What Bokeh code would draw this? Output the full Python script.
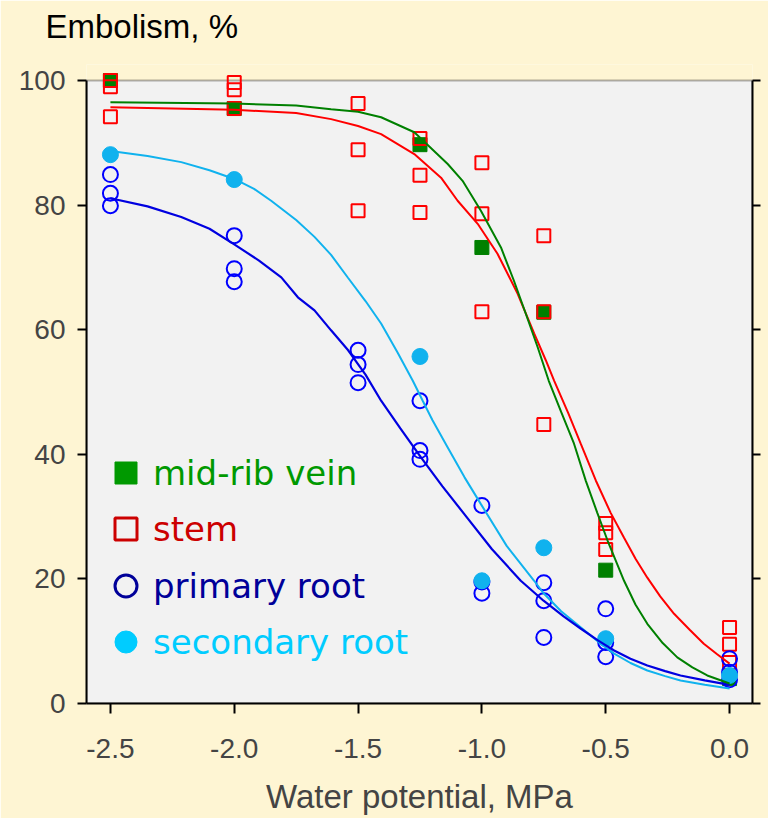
from bokeh.plotting import figure
from bokeh.models import (Range1d, LinearAxis, FixedTicker, NumeralTickFormatter, BoxAnnotation,
                          Legend, LegendItem)
from bokeh.embed import file_html
from bokeh.resources import INLINE

# ---------------- data ----------------
x_ticks = [-2.5, -2.0, -1.5, -1.0, -0.5, 0.0]
y_ticks = [0, 20, 40, 60, 80, 100]

vein_x = [-2.5, -2.0, -1.25, -1.0, -0.75, -0.5, 0.0]
vein_y = [100.0, 95.5, 89.7, 73.2, 62.8, 21.4, 4.0]

stem_x = [-2.5, -2.5, -2.5, -2.0, -2.0, -2.0, -1.5, -1.5, -1.5, -1.25, -1.25, -1.25,
          -1.0, -1.0, -1.0, -0.75, -0.75, -0.75, -0.5, -0.5, -0.5, 0.0, 0.0, 0.0]
stem_y = [100.0, 99.0, 94.2, 99.7, 98.5, 95.5, 96.3, 88.9, 79.1, 90.7, 84.8, 78.8,
          86.8, 78.6, 62.9, 75.1, 62.9, 44.8, 28.9, 27.4, 24.7, 12.2, 9.5, 6.6]

prim_x = [-2.5, -2.5, -2.5, -2.0, -2.0, -2.0, -1.5, -1.5, -1.5, -1.25, -1.25, -1.25,
          -1.0, -1.0, -1.0, -0.75, -0.75, -0.75, -0.5, -0.5, -0.5, 0.0, 0.0, 0.0]
prim_y = [84.9, 81.9, 79.9, 75.1, 69.8, 67.7, 56.7, 54.4, 51.5, 48.6, 40.6, 39.2,
          31.8, 19.5, 17.7, 19.4, 16.5, 10.6, 15.2, 9.8, 7.5, 7.2, 5.0, 3.8]

sec_x = [-2.5, -2.0, -1.25, -1.0, -0.75, -0.5, 0.0]
sec_y = [88.1, 84.1, 55.7, 19.7, 25.0, 10.4, 4.5]

# fitted curves, points
vein_fit_x = [-2.5, -2.0, -1.75, -1.609, -1.5, -1.407, -1.273, -1.138, -1.078, -1.004, -0.923,
              -0.871, -0.823, -0.774, -0.730, -0.680, -0.628, -0.58, -0.534, -0.493, -0.426,
              -0.38, -0.332, -0.27, -0.211, -0.15, -0.09, 0.0]
vein_fit_y = [96.5, 96.3, 96.0, 95.4, 95.0, 94.1, 91.7, 86.6, 83.9, 79.1, 73.2,
              67.9, 62.6, 57.1, 51.8, 46.8, 41.7, 35.7, 30.6, 26.2, 19.7,
              15.9, 12.8, 9.7, 7.4, 5.8, 4.5, 3.2]

stem_fit_x = [-2.5, -2.0, -1.75, -1.609, -1.5, -1.407, -1.273, -1.165, -1.098, -1.017, -0.937,
              -0.856, -0.789, -0.742, -0.708, -0.65, -0.601, -0.54, -0.48, -0.426, -0.379,
              -0.332, -0.28, -0.224, -0.16, -0.104, -0.05, 0.0]
stem_fit_y = [95.7, 95.3, 94.8, 93.8, 92.7, 91.4, 88.2, 84.4, 80.7, 77.0, 72.2,
              65.8, 59.4, 55.1, 51.8, 46.5, 41.7, 35.8, 30.6, 26.6, 23.2,
              20.2, 17.2, 14.4, 11.8, 9.6, 7.9, 6.4]

prim_fit_x = [-2.5, -2.35, -2.214, -2.1, -2.0, -1.9, -1.81, -1.743, -1.676, -1.609, -1.54,
              -1.47, -1.407, -1.33, -1.246, -1.16, -1.071, -0.96, -0.843, -0.751, -0.67,
              -0.6, -0.53, -0.466, -0.4, -0.332, -0.26, -0.198, -0.1, 0.0]
prim_fit_y = [81.1, 79.8, 78.1, 76.2, 73.7, 71.1, 68.4, 65.2, 63.1, 59.9, 56.7,
              52.8, 48.6, 44.2, 39.5, 34.9, 30.4, 24.8, 19.7, 16.5, 14.0,
              12.0, 10.1, 8.5, 7.2, 6.1, 5.2, 4.5, 3.7, 3.0]

sec_fit_x = [-2.5, -2.35, -2.214, -2.1, -2.0, -1.92, -1.851, -1.75, -1.676, -1.609, -1.54,
             -1.47, -1.407, -1.34, -1.279, -1.239, -1.2, -1.138, -1.07, -1.004, -0.9,
             -0.789, -0.751, -0.68, -0.6, -0.53, -0.466, -0.4, -0.332, -0.26, -0.198, -0.1, 0.0]
sec_fit_y = [88.7, 87.9, 86.9, 85.6, 84.2, 82.6, 80.7, 77.6, 74.9, 72.0, 68.3,
             64.6, 61.0, 56.3, 51.8, 48.6, 45.5, 41.1, 36.3, 32.0, 25.3,
             19.7, 17.7, 14.8, 12.2, 9.9, 8.0, 6.5, 5.3, 4.4, 3.7, 3.0, 2.4]

legend_labels = ["mid-rib vein", "stem", "primary root", "secondary root"]
y_title = "Embolism, %"
x_title = "Water potential, MPa"

# ---------------- styles ----------------
OUTER = "#FEF5D3"
PANEL = "#F2F2F2"
GREEN = "#008000"
RED = "#FF0000"
BLUE = "#0000FF"
BLUE_LINE = "#0000E0"
CYAN = "#10B2EE"
AX_FONT = "Liberation Sans"
LEG_FONT = "DejaVu Sans"

p = figure(frame_width=666, frame_height=639,
           x_range=Range1d(-2.5966, 0.0927), y_range=Range1d(0, 102.57),
           output_backend="svg", toolbar_location=None,
           min_border_left=86, min_border_right=16, min_border_top=64, min_border_bottom=115,
           background_fill_color=OUTER, border_fill_color=OUTER, outline_line_color=None)

p.grid.visible = False

# grey plotting panel bounded at 0..100
p.add_layout(BoxAnnotation(bottom=0, top=100, fill_color=PANEL, fill_alpha=1.0,
                           line_color="black", line_width=2, level="underlay"))

# bottom x axis (configured before the spacer axis is added above)
xa = p.below[0]
xa.ticker = FixedTicker(ticks=x_ticks)
xa.formatter = NumeralTickFormatter(format="0.0")
xa.axis_label = x_title
xa.axis_label_text_font = AX_FONT
xa.axis_label_text_font_size = "33px"
xa.axis_label_text_font_style = "normal"
xa.axis_label_standoff = 17
xa.major_label_text_font = AX_FONT
xa.major_label_text_font_size = "28px"
xa.major_label_standoff = 25
xa.major_tick_out = 10
xa.major_tick_in = 0
xa.minor_tick_out = 0
xa.minor_tick_in = 0
xa.axis_line_width = 2
xa.major_tick_line_width = 2

# invisible spacer above the frame (one transparent tick, blank label)
# so that the title sits higher above the panel
spacer = LinearAxis(ticker=FixedTicker(ticks=[-1.0]), major_label_overrides={-1.0: ""},
                    axis_line_alpha=0, major_tick_line_alpha=0, minor_tick_line_alpha=0,
                    major_tick_out=20, major_tick_in=0, minor_tick_out=0, minor_tick_in=0,
                    major_label_standoff=0, major_label_text_font_size="1px")
p.add_layout(spacer, "above")

# y title written horizontally above the panel, as in the reference
p.title.text = y_title
p.title.text_font = AX_FONT
p.title.text_font_size = "33px"
p.title.text_font_style = "normal"
p.title.text_color = "black"
p.title.align = "left"
p.title.vertical_align = "bottom"
p.title.offset = -41
p.title.standoff = 0

ya = p.left[0]
ya.ticker = FixedTicker(ticks=y_ticks)
ya.bounds = (0, 100)
ya.major_label_text_font = AX_FONT
ya.major_label_text_font_size = "28px"
ya.major_label_standoff = 12
ya.major_tick_out = 9
ya.major_tick_in = 0
ya.minor_tick_out = 0
ya.minor_tick_in = 0
ya.axis_line_width = 2
ya.major_tick_line_width = 2

ra = LinearAxis(ticker=FixedTicker(ticks=y_ticks), bounds=(0, 100),
                major_label_overrides={t: "" for t in y_ticks}, major_label_standoff=0,
                major_tick_out=8, major_tick_in=0, minor_tick_out=0, minor_tick_in=0,
                axis_line_width=2, major_tick_line_width=2)
p.add_layout(ra, "right")

# markers
p.scatter(vein_x, vein_y, marker="square", size=14, fill_color=GREEN, line_color=GREEN, line_width=1)
p.scatter(stem_x, stem_y, marker="square", size=13, fill_color=None, line_color=RED, line_width=2)
p.scatter(prim_x, prim_y, marker="circle", size=15, fill_color=None, line_color=BLUE, line_width=2)
p.scatter(sec_x, sec_y, marker="circle", size=16, fill_color=CYAN, line_color=CYAN, line_width=1)

# fitted curves
p.line(sec_fit_x, sec_fit_y, line_color=CYAN, line_width=2)
p.line(prim_fit_x, prim_fit_y, line_color=BLUE_LINE, line_width=2.2)
p.line(stem_fit_x, stem_fit_y, line_color=RED, line_width=2)
p.line(vein_fit_x, vein_fit_y, line_color=GREEN, line_width=2)

# legend (one legend per entry so each label keeps its own colour);
# swatch renderers are hidden in the plot, only their legend glyph shows
leg_series = [(vein_x, vein_y), (stem_x, stem_y), (prim_x, prim_y), (sec_x, sec_y)]
leg_styles = [
    dict(marker="square", fill_color="#009900", line_color="#009900", line_width=1, text="#009900"),
    dict(marker="square", fill_color=None, line_color="#CC0000", line_width=3, text="#CC0000"),
    dict(marker="circle", fill_color=None, line_color="#000099", line_width=3, text="#000099"),
    dict(marker="circle", fill_color="#00CCFF", line_color="#00CCFF", line_width=1, text="#00CCFF"),
]
leg_y = [203, 147, 90, 34]
for label, (sx, sy), st, ly in zip(legend_labels, leg_series, leg_styles, leg_y):
    r = p.scatter(sx, sy, marker=st["marker"], size=22, fill_color=st["fill_color"],
                  line_color=st["line_color"], line_width=st["line_width"])
    r.visible = False
    lg = Legend(items=[LegendItem(label=label, renderers=[r])], location=(12, ly),
                glyph_width=55, glyph_height=55, label_standoff=0, padding=0, margin=0,
                spacing=0, border_line_color=None, background_fill_alpha=0,
                label_text_font=LEG_FONT, label_text_font_size="34px",
                label_text_color=st["text"], click_policy="none")
    p.add_layout(lg)

open("out.html", "w").write(file_html(p, INLINE))
